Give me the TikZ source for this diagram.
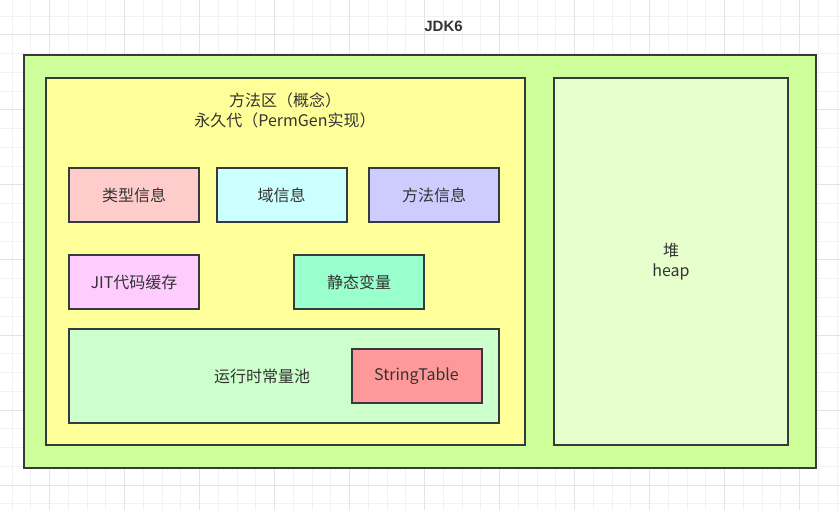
\documentclass[tikz,border=0pt]{standalone}
\usepackage{fontspec}
\setmainfont{Noto Sans CJK SC}
\newfontfamily\latbf{Liberation Sans}[BoldFont={Liberation Sans Bold}]
\definecolor{strokec}{HTML}{36393D}
\definecolor{txt}{HTML}{333333}
\definecolor{gridminor}{HTML}{F2F2F2}
\definecolor{gridmajor}{HTML}{E4E4E4}
\definecolor{outerc}{HTML}{CCFF99}
\definecolor{methodc}{HTML}{FFFF99}
\definecolor{heapc}{HTML}{E6FFCC}
\definecolor{typec}{HTML}{FFCCCC}
\definecolor{fieldc}{HTML}{CCFFFF}
\definecolor{methinfoc}{HTML}{CCCCFF}
\definecolor{jitc}{HTML}{FFCCFF}
\definecolor{staticc}{HTML}{99FFCC}
\definecolor{poolc}{HTML}{CCFFCC}
\definecolor{strtabc}{HTML}{FF9999}
\begin{document}
\begin{tikzpicture}[x=1pt,y=-1pt,
  box/.style={draw=strokec, line width=2pt, rectangle, inner sep=0pt, text=txt,
    font=\fontsize{16}{20}\selectfont, align=center},
  lbl/.style={text=txt, font=\fontsize{16}{20}\selectfont, align=center, inner sep=0pt},
  small/.style={box, minimum width=130pt, minimum height=54pt}]
\useasboundingbox (0,0) rectangle (840,510);
\fill[white] (0,0) rectangle (840,510);
\foreach \i in {0,...,44} \draw[gridminor, line width=1pt] ({12.2+18.75*\i},0) -- ++(0,510);
\foreach \i in {0,...,27} \draw[gridminor, line width=1pt] (0,{16.25+18.75*\i}) -- ++(840,0);
\foreach \i in {0,...,10} \draw[gridmajor, line width=1pt] ({49.7+75*\i},0) -- ++(0,510);
\foreach \i in {0,...,6} \draw[gridmajor, line width=1pt] (0,{35+75*\i}) -- ++(840,0);

\node[text=txt, font=\latbf\bfseries\fontsize{15}{18}\selectfont] (title) at (443.5,26) {JDK6};

\node[box, fill=outerc, minimum width=792pt, minimum height=413pt] (outer) at (420,261.5) {};
\node[box, fill=methodc, minimum width=479pt, minimum height=367pt] (method) at (285.5,261.5) {};
\node[box, fill=heapc, minimum width=234pt, minimum height=367pt] (heap) at (671,261.5) {堆\\heap};

\node[lbl] (mlabel) at (285,110) {方法区（概念）\\永久代（PermGen实现）};

\node[small, fill=typec] (typeinfo) at (134,195) {类型信息};
\node[small, fill=fieldc] (fieldinfo) at (281.5,195) {域信息};
\node[small, fill=methinfoc] (methodinfo) at (434,195) {方法信息};
\node[small, fill=jitc] (jit) at (134,282) {JIT代码缓存};
\node[small, fill=staticc] (static) at (359,282) {静态变量};
\node[box, fill=poolc, minimum width=430pt, minimum height=94pt] (pool) at (284,376) {};
\node[lbl] (poollbl) at (262,376) {运行时常量池};
\node[small, fill=strtabc] (strtab) at (416.5,376) {StringTable};
\end{tikzpicture}
\end{document}
